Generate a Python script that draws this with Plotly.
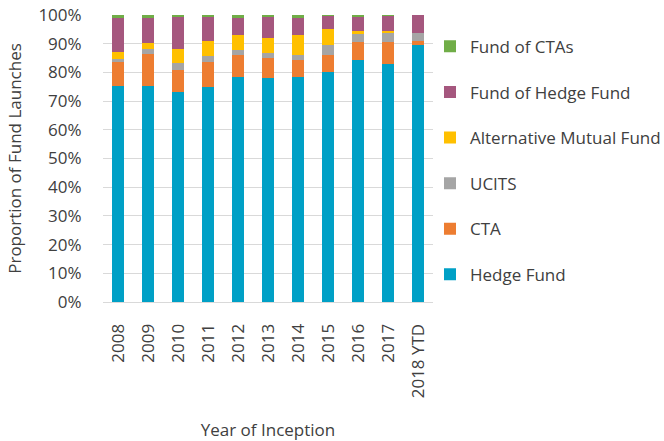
import plotly.graph_objects as go

years = ["2008", "2009", "2010", "2011", "2012", "2013", "2014", "2015", "2016", "2017", "2018 YTD"]
hedge_fund = [75.3, 75.3, 73.3, 75.0, 78.3, 77.9, 78.3, 80.0, 84.2, 83.0, 89.4]
cta = [8.4, 11.1, 7.7, 8.5, 7.8, 7.0, 6.0, 5.9, 6.4, 7.5, 1.6]
ucits = [1.0, 1.6, 2.3, 2.3, 1.7, 1.9, 1.9, 3.5, 2.9, 3.2, 2.7]
alt_mutual_fund = [2.5, 2.1, 4.9, 5.3, 5.2, 5.3, 6.8, 5.7, 0.9, 0.7, 0.0]
fund_of_hedge_fund = [11.9, 8.7, 11.2, 8.3, 6.1, 7.3, 6.1, 4.7, 5.0, 5.4, 6.3]
fund_of_ctas = [0.9, 1.2, 0.6, 0.6, 0.9, 0.6, 0.9, 0.2, 0.6, 0.2, 0.0]

series = [
    ("Hedge Fund", hedge_fund, "#00A0C6"),
    ("CTA", cta, "#ED7D31"),
    ("UCITS", ucits, "#A5A5A5"),
    ("Alternative Mutual Fund", alt_mutual_fund, "#FFC000"),
    ("Fund of Hedge Fund", fund_of_hedge_fund, "#A5577E"),
    ("Fund of CTAs", fund_of_ctas, "#70AD47"),
]

fig = go.Figure()
n = len(series)
for i, (name, vals, color) in enumerate(series):
    fig.add_trace(go.Bar(
        x=years, y=[v / 100 for v in vals], name=name,
        marker=dict(color=color, line=dict(width=0)),
        legendgroup=name, legendrank=n - i,
    ))

font = dict(family="Open Sans", size=17, color="#404040")
fig.update_layout(
    barmode="stack",
    bargap=0.6,
    width=664, height=441,
    margin=dict(l=103, r=231, t=15, b=139, autoexpand=False),
    plot_bgcolor="white", paper_bgcolor="white",
    font=font,
    legend=dict(
        traceorder="grouped",
        tracegroupgap=20.5,
        x=0.9909, xanchor="left", y=0.952, yanchor="top",
        font=font, itemwidth=30, bgcolor="rgba(0,0,0,0)",
    ),
    xaxis=dict(
        tickangle=-90, showgrid=False, showline=False, automargin=False,
        ticks="outside", ticklen=14, tickcolor="rgba(0,0,0,0)",
        title=dict(text="Year of Inception", font=font, standoff=28),
    ),
    yaxis=dict(
        range=[0, 1], tickformat=".0%", dtick=0.1, automargin=False,
        showgrid=True, gridcolor="#D9D9D9", gridwidth=1,
        zeroline=True, zerolinecolor="#D9D9D9", zerolinewidth=1,
        ticks="outside", ticklen=17, tickcolor="rgba(0,0,0,0)",
        title=dict(text="Proportion of Fund Launches", font=font, standoff=12),
    ),
)

fig.write_html("out.html", config={"displayModeBar": False},
               post_script="document.body.style.margin='0px';")
